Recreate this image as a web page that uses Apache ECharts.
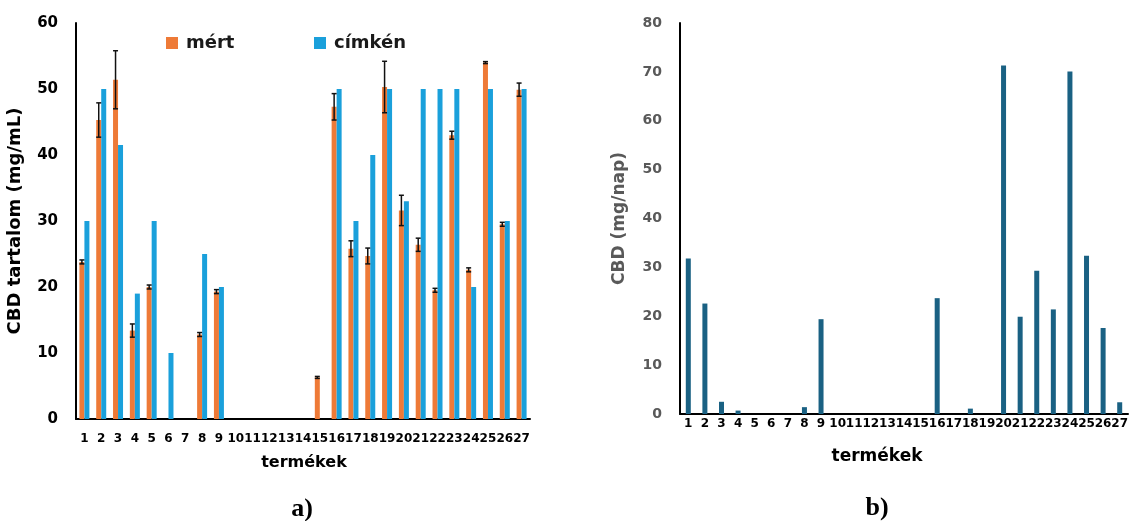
<!DOCTYPE html>
<html><head><meta charset="utf-8">
<script src="https://cdn.jsdelivr.net/npm/echarts@6/dist/echarts.min.js"></script>
<style>html,body{margin:0;padding:0;background:#fff}#c{width:1131px;height:521px}</style>
</head><body><div id="c"></div>
<script>
const categories = ['1','2','3','4','5','6','7','8','9','10','11','12','13','14','15','16','17','18','19','20','21','22','23','24','25','26','27'];
const mert = [23.8,45.3,51.4,13.4,20.0,null,null,12.8,19.3,null,null,null,null,null,6.3,47.3,25.8,24.7,50.3,31.6,26.4,19.5,43.0,22.6,54.0,29.5,49.9];
const mertErr = [0.3,2.6,4.4,1.0,0.3,0,0,0.3,0.3,0,0,0,0,0,0.15,2.0,1.2,1.2,3.9,2.3,1.0,0.3,0.6,0.3,0.15,0.3,1.0];
const cimken = [30,50,41.5,19,30,10,null,25,20,null,null,null,null,null,null,50,30,40,50,33,50,50,50,20,50,30,50];
const napi = [31.8,22.6,2.5,0.7,null,null,null,1.4,19.4,null,null,null,null,null,null,23.7,null,1.1,null,71.3,19.9,29.3,21.4,70.1,32.4,17.6,2.4];
const leftTicks = {min:0,max:60,interval:10};
const rightTicks = {min:0,max:80,interval:10};

const FONT = 'DejaVu Sans';
const chart = echarts.init(document.getElementById('c'));
const errData = mert.map((v,i)=>[i, v, mertErr[i]]).filter(d=>d[1]!=null && d[2]>0);

chart.setOption({
  animation:false,
  grid:[
    {left:76, top:23, width:454, height:396},
    {left:680, top:23, width:451, height:391}
  ],
  legend:[
    {data:['mért'], left:161, top:29, itemWidth:12, itemHeight:12, itemGap:8, icon:'rect',
     textStyle:{fontFamily:FONT, fontWeight:'bold', fontSize:18, color:'#1a1a1a', padding:[0,0,0,3]}},
    {data:['címkén'], left:309, top:29, itemWidth:12, itemHeight:12, itemGap:8, icon:'rect',
     textStyle:{fontFamily:FONT, fontWeight:'bold', fontSize:18, color:'#1a1a1a', padding:[0,0,0,3]}}
  ],
  xAxis:[
    {type:'category', gridIndex:0, data:categories,
     axisLine:{lineStyle:{color:'#000', width:2}}, axisTick:{show:false},
     axisLabel:{interval:0, margin:14, fontFamily:FONT, fontWeight:'bold', fontSize:12, color:'#000'}},
    {type:'category', gridIndex:1, data:categories,
     axisLine:{lineStyle:{color:'#000', width:2}}, axisTick:{show:false},
     axisLabel:{interval:0, margin:4, fontFamily:FONT, fontWeight:'bold', fontSize:12, color:'#000'}}
  ],
  yAxis:[
    {type:'value', gridIndex:0, min:leftTicks.min, max:leftTicks.max, interval:leftTicks.interval,
     axisLine:{show:true, lineStyle:{color:'#000', width:2}}, axisTick:{show:false}, splitLine:{show:false},
     axisLabel:{margin:18, fontFamily:FONT, fontWeight:'bold', fontSize:15, color:'#000'},
     name:'CBD tartalom (mg/mL)', nameLocation:'middle', nameGap:52,
     nameTextStyle:{fontFamily:FONT, fontWeight:'bold', fontSize:18, color:'#000'}},
    {type:'value', gridIndex:1, min:rightTicks.min, max:rightTicks.max, interval:rightTicks.interval,
     axisLine:{show:true, lineStyle:{color:'#000', width:2}}, axisTick:{show:false}, splitLine:{show:false},
     axisLabel:{margin:18, fontFamily:FONT, fontWeight:'bold', fontSize:14, color:'#595959'},
     name:'CBD (mg/nap)', nameLocation:'middle', nameGap:52,
     nameTextStyle:{fontFamily:FONT, fontWeight:'bold', fontSize:17, color:'#595959'}}
  ],
  series:[
    {name:'mért', type:'bar', xAxisIndex:0, yAxisIndex:0, data:mert, barWidth:5, barGap:'0%',
     itemStyle:{color:'#EE7A37'}},
    {name:'címkén', type:'bar', xAxisIndex:0, yAxisIndex:0, data:cimken, barWidth:5, barGap:'0%',
     itemStyle:{color:'#1AA0DB'}},
    {name:'err', type:'custom', xAxisIndex:0, yAxisIndex:0, data:errData, z:10,
     encode:{x:0, y:1},
     renderItem:function(params, api){
       const i = api.value(0), v = api.value(1), e = api.value(2);
       const top = api.coord([i, v+e]);
       const bot = api.coord([i, v-e]);
       const x = top[0] - 2.5;
       const cap = 2.5;
       const st = {stroke:'#111', lineWidth:1.5};
       return {type:'group', children:[
         {type:'line', shape:{x1:x, y1:top[1], x2:x, y2:bot[1]}, style:st},
         {type:'line', shape:{x1:x-cap, y1:top[1], x2:x+cap, y2:top[1]}, style:st},
         {type:'line', shape:{x1:x-cap, y1:bot[1], x2:x+cap, y2:bot[1]}, style:st}
       ]};
     }},
    {name:'napi', type:'bar', xAxisIndex:1, yAxisIndex:1, data:napi, barWidth:5,
     itemStyle:{color:'#1A6183'}}
  ],
  graphic:[
    {type:'text', x:304, y:463, style:{text:'termékek', x:0, y:0, align:'center', verticalAlign:'middle',
      font:'bold 16px "DejaVu Sans"', fill:'#000'}},
    {type:'text', x:877, y:457, style:{text:'termékek', x:0, y:0, align:'center', verticalAlign:'middle',
      font:'bold 17px "DejaVu Sans"', fill:'#000'}},
    {type:'text', x:302, y:509, style:{text:'a)', x:0, y:0, align:'center', verticalAlign:'middle',
      font:'bold 26px "Liberation Serif"', fill:'#000'}},
    {type:'text', x:877, y:508, style:{text:'b)', x:0, y:0, align:'center', verticalAlign:'middle',
      font:'bold 26px "Liberation Serif"', fill:'#000'}}
  ]
});
</script></body></html>
